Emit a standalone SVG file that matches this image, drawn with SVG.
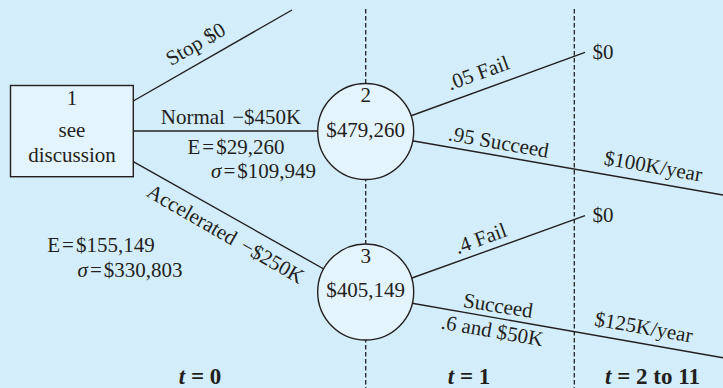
<svg xmlns="http://www.w3.org/2000/svg" width="723" height="388" viewBox="0 0 723 388">
<style>
text{font-family:"Liberation Serif","Times New Roman",serif;font-size:21px;fill:#231f20}
.m{text-anchor:middle}
.ln{stroke:#231f20;stroke-width:1.4;fill:none}
.dash{stroke:#231f20;stroke-width:1.3;stroke-dasharray:4.5 2.5;fill:none}
.nd{fill:#e3f4fd;stroke:#231f20;stroke-width:1.4}
.t{font-weight:bold;font-size:23px}
</style>
<rect width="723" height="388" fill="#d3eefa"/>
<g id="connectors">
<line class="dash" x1="365.7" y1="9" x2="365.7" y2="388"/>
<line class="dash" x1="574.3" y1="9" x2="574.3" y2="388"/>
<line class="ln" x1="133.3" y1="101" x2="292" y2="10"/>
<line class="ln" x1="133.3" y1="131" x2="330" y2="131"/>
<line class="ln" x1="133.3" y1="161.7" x2="330" y2="272.5"/>
<line class="ln" x1="405" y1="118" x2="585" y2="52.3"/>
<line class="ln" x1="405" y1="139.5" x2="723" y2="195"/>
<line class="ln" x1="405" y1="280.5" x2="585" y2="215.7"/>
<line class="ln" x1="405" y1="302" x2="723" y2="357.7"/>
</g>
<g id="node1">
<rect class="nd" x="10.5" y="85.5" width="122.8" height="91.2"/>
<text class="m" x="72" y="105">1</text>
<text class="m" x="72" y="137">see</text>
<text class="m" x="72" y="162">discussion</text>
</g>
<g id="node2">
<circle class="nd" cx="365.7" cy="131.5" r="48"/>
<text class="m" x="365.7" y="102">2</text>
<text class="m" x="365.7" y="137">$479,260</text>
</g>
<g id="node3">
<circle class="nd" cx="365.7" cy="292" r="48"/>
<text class="m" x="365.7" y="263">3</text>
<text class="m" x="365.7" y="297">$405,149</text>
</g>
<g id="labels">
<text class="m" transform="translate(199,50) rotate(-30)">Stop $0</text>
<text class="m" x="231" y="124">Normal <tspan dx="2">−$450K</tspan></text>
<text class="m" x="236" y="154">E<tspan dx="2">=</tspan><tspan dx="2">$29,260</tspan></text>
<text class="m" x="263.5" y="178"><tspan font-style="italic">σ</tspan><tspan dx="2">=</tspan><tspan dx="2">$109,949</tspan></text>
<text class="m" transform="translate(222,240) rotate(30)">Accelerated <tspan dx="3">−$250K</tspan></text>
<text class="m" x="101" y="252">E<tspan dx="2">=</tspan><tspan dx="2">$155,149</tspan></text>
<text class="m" x="130" y="277"><tspan font-style="italic">σ</tspan><tspan dx="2">=</tspan><tspan dx="2">$330,803</tspan></text>
<text class="m" transform="translate(480.5,79.5) rotate(-20)">.05 Fail</text>
<text x="592.5" y="59">$0</text>
<text class="m" transform="translate(497.5,149) rotate(10)">.95 Succeed</text>
<text class="m" transform="translate(652,173) rotate(10)">$100K/year</text>
<text class="m" transform="translate(483,245) rotate(-20)">.4 Fail</text>
<text x="592.5" y="222">$0</text>
<text class="m" transform="translate(497,312.5) rotate(9)">Succeed</text>
<text class="m" transform="translate(491,337.5) rotate(10)">.6 and $50K</text>
<text class="m" transform="translate(642.5,334) rotate(10)">$125K/year</text>
<text class="m t" x="200" y="384"><tspan font-style="italic">t</tspan> = 0</text>
<text class="m t" x="469" y="384"><tspan font-style="italic">t</tspan> = 1</text>
<text class="m t" x="652.5" y="384"><tspan font-style="italic">t</tspan> = 2 to 11</text>
</g>
</svg>
